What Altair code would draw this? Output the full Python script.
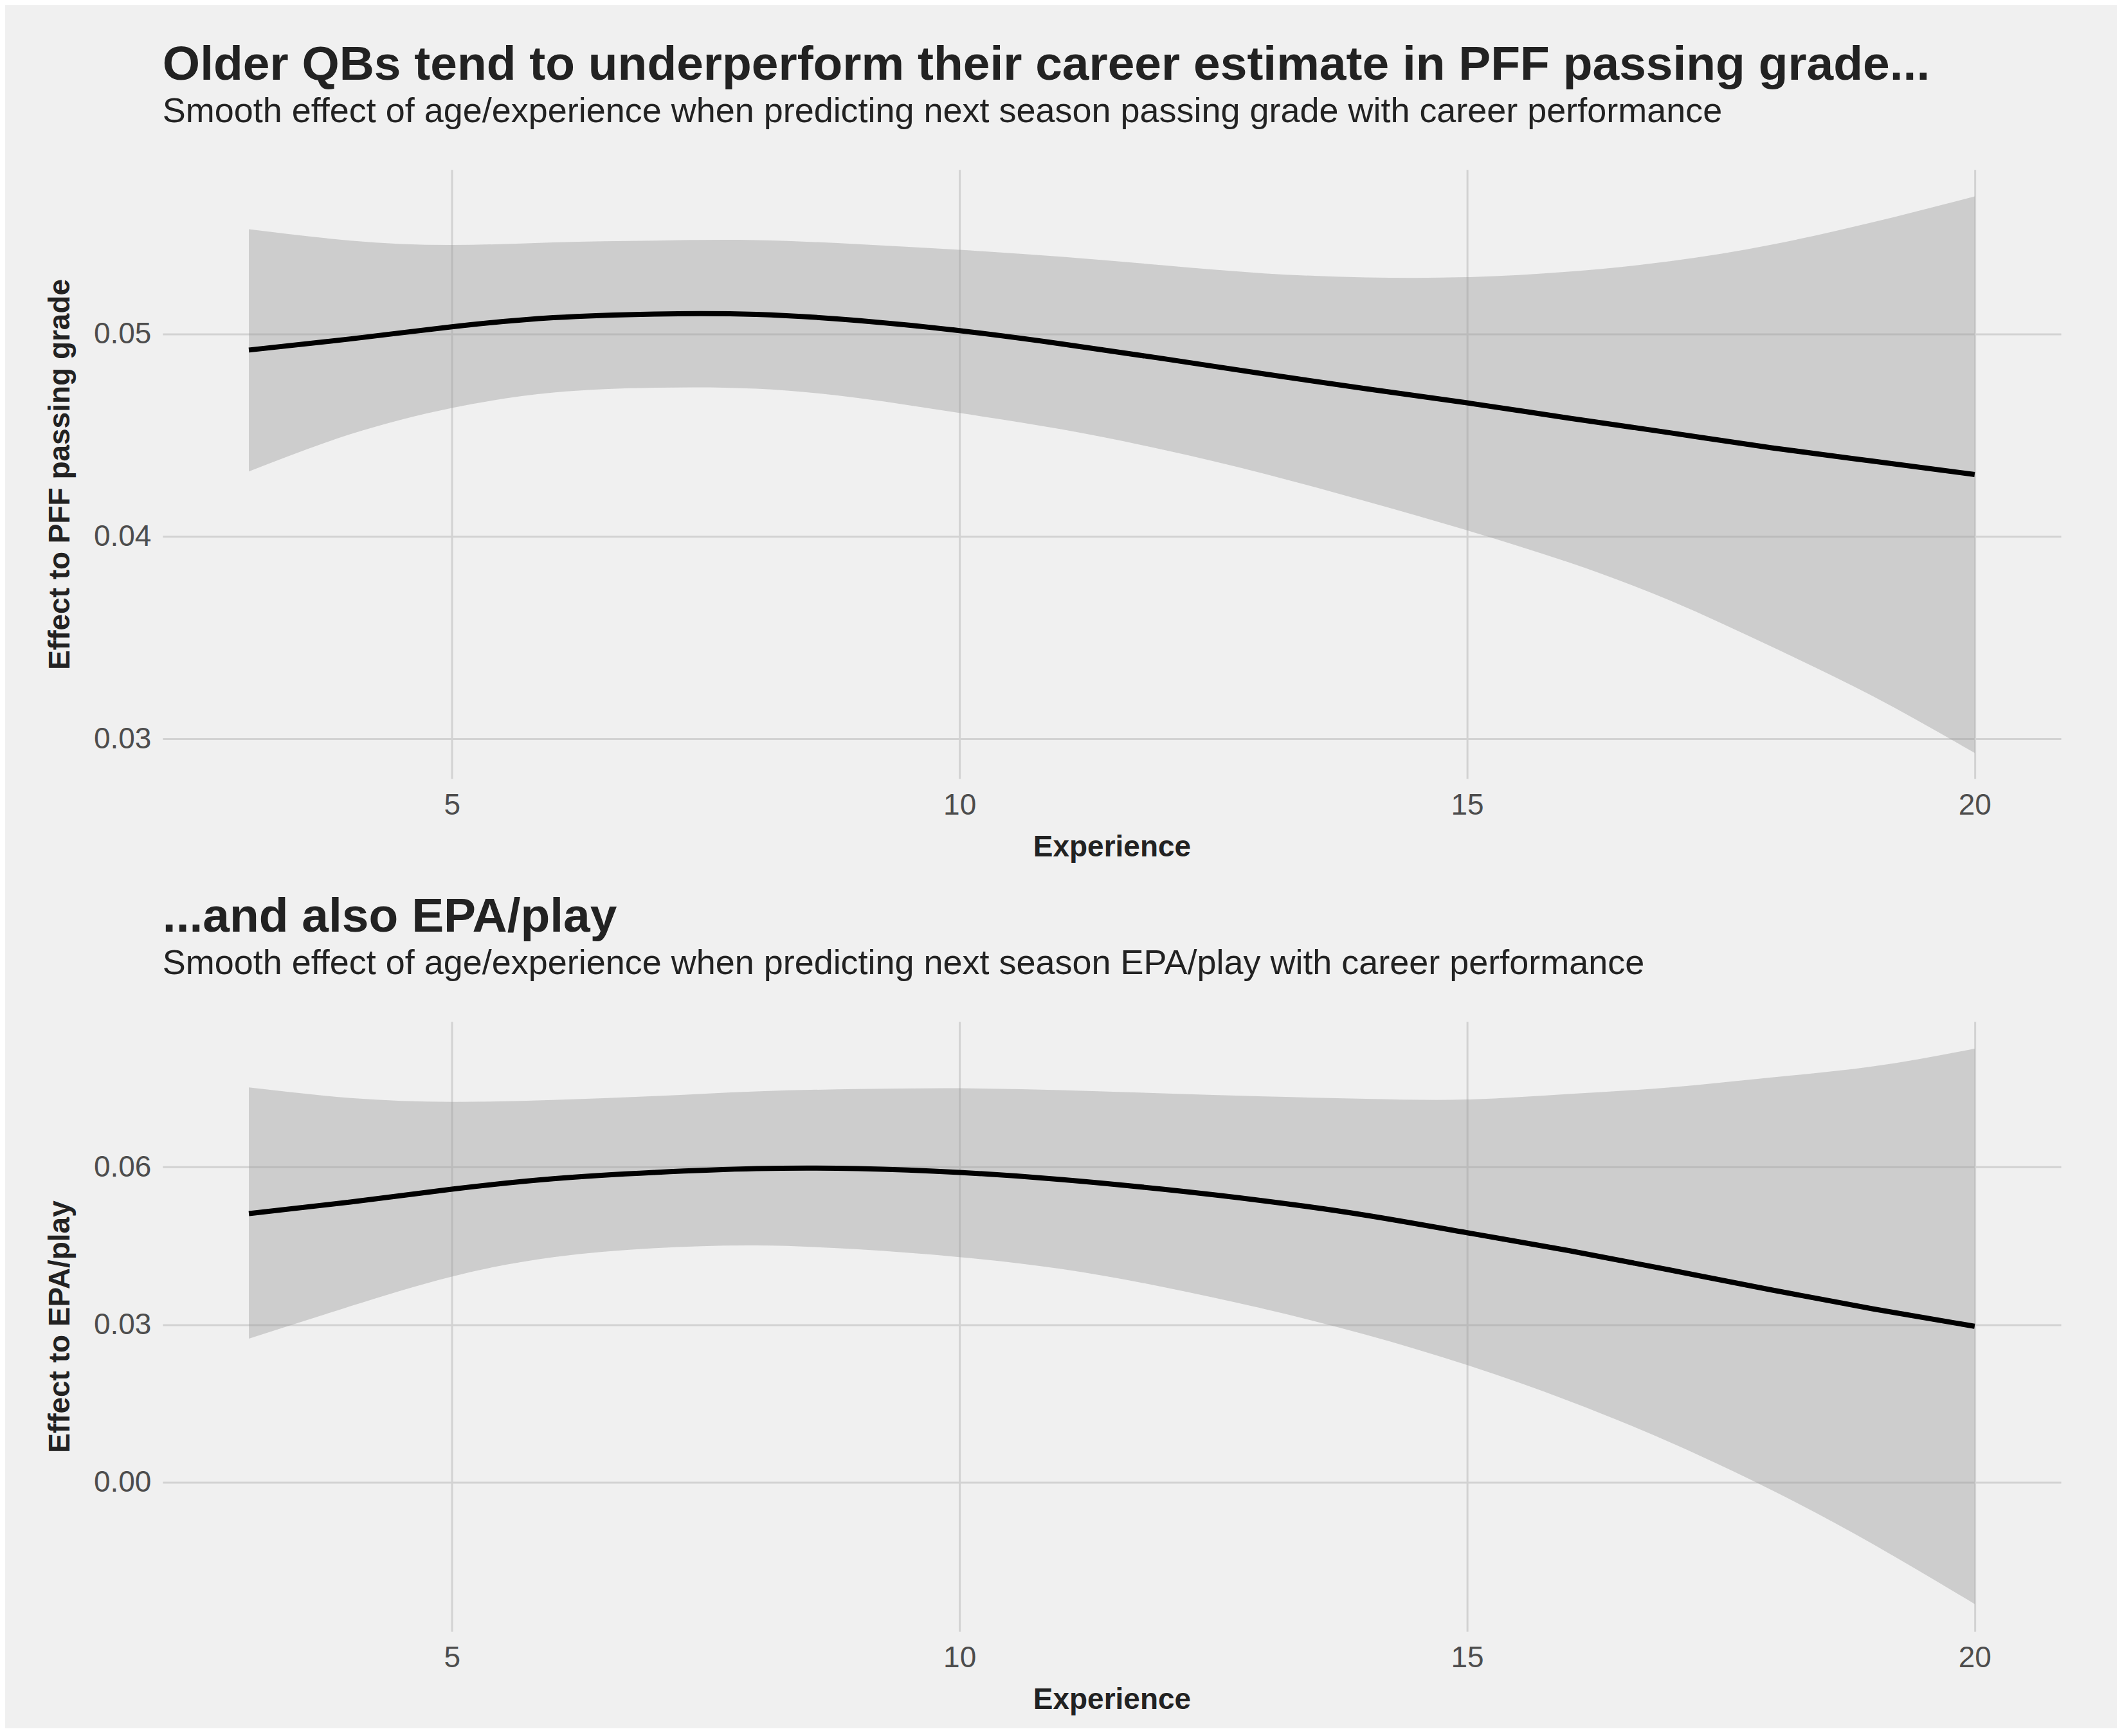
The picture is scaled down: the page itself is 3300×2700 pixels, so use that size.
import altair as alt
import pandas as pd

# Experience (x) values
experience = [3, 4, 5, 6, 7, 8, 9, 10, 11, 12, 13, 14, 15, 16, 17, 18, 19, 20]

# Panel 1: effect to PFF passing grade
pff_fit = [0.04921, 0.04976, 0.05036, 0.05081, 0.05099, 0.05097, 0.05067, 0.05017, 0.04952,
           0.04879, 0.04803, 0.04730, 0.04660, 0.04585, 0.04512, 0.04438, 0.04372, 0.04306]
pff_hi = [0.05518, 0.05462, 0.05440, 0.05453, 0.05462, 0.05464, 0.05444, 0.05416, 0.05382,
          0.05340, 0.05300, 0.05280, 0.05281, 0.05308, 0.05360, 0.05442, 0.05553, 0.05680]
pff_lo = [0.04321, 0.04505, 0.04635, 0.04711, 0.04735, 0.04730, 0.04684, 0.04610, 0.04530,
          0.04429, 0.04310, 0.04174, 0.04030, 0.03872, 0.03683, 0.03455, 0.03210, 0.02930]

# Panel 2: effect to EPA/play
epa_fit = [0.05113, 0.05335, 0.05579, 0.05778, 0.05897, 0.05970, 0.05970, 0.05897, 0.05764,
           0.05579, 0.05357, 0.05084, 0.04750, 0.04410, 0.04040, 0.03660, 0.03300, 0.02968]
epa_hi = [0.07515, 0.07315, 0.07241, 0.07278, 0.07352, 0.07441, 0.07485, 0.07500, 0.07463,
          0.07404, 0.07345, 0.07300, 0.07286, 0.07390, 0.07516, 0.07705, 0.07916, 0.08253]
epa_lo = [0.02734, 0.03350, 0.03916, 0.04286, 0.04456, 0.04507, 0.04434, 0.04286, 0.04060,
          0.03720, 0.03300, 0.02810, 0.02230, 0.01550, 0.00760, -0.00150, -0.01180, -0.02320]

x_ticks = [5, 10, 15, 20]
pff_ticks = [0.03, 0.04, 0.05]
epa_ticks = [0.00, 0.03, 0.06]

titles = ["Older QBs tend to underperform their career estimate in PFF passing grade...",
          "...and also EPA/play"]
subtitles = ["Smooth effect of age/experience when predicting next season passing grade with career performance",
             "Smooth effect of age/experience when predicting next season EPA/play with career performance"]
y_titles = ["Effect to PFF passing grade", "Effect to EPA/play"]
x_title = "Experience"

FONT = "Liberation Sans"
INK = "#222222"

def panel(fit, lo, hi, yticks, ydomain, title, subtitle, ytitle, height):
    df = pd.DataFrame({"exp": experience, "fit": fit, "lo": lo, "hi": hi})
    xenc = alt.X("exp:Q",
                 scale=alt.Scale(domain=[2.15, 20.85], nice=False, zero=False),
                 axis=alt.Axis(values=x_ticks, title=x_title, labelPadding=19,
                               titlePadding=20, format="d"))
    yscale = alt.Scale(domain=ydomain, nice=False, zero=False)
    band = alt.Chart(df).mark_area(color="#999999", opacity=0.4, interpolate="natural").encode(
        x=xenc,
        y=alt.Y("lo:Q", scale=yscale,
                axis=alt.Axis(values=yticks, format=".2f", title=ytitle,
                              labelPadding=18, titlePadding=28)),
        y2="hi:Q",
    )
    line = alt.Chart(df).mark_line(color="#000000", strokeWidth=8, interpolate="natural").encode(
        x=alt.X("exp:Q"),
        y=alt.Y("fit:Q"),
    )
    return alt.layer(band, line).properties(
        width=2954, height=height,
        title=alt.TitleParams(text=title, subtitle=subtitle, anchor="start", frame="group",
                              font=FONT, fontSize=75, fontWeight="bold", color=INK,
                              subtitleFont=FONT, subtitleFontSize=54, subtitleColor=INK,
                              subtitlePadding=7, offset=62),
    )

top = panel(pff_fit, pff_lo, pff_hi, pff_ticks, [0.02803, 0.05813],
            titles[0], subtitles[0], y_titles[0], 948)
bottom = panel(epa_fit, epa_lo, epa_hi, epa_ticks, [-0.0284, 0.0877],
               titles[1], subtitles[1], y_titles[1], 949)

chart = alt.vconcat(top, bottom, spacing=49).properties(
    background="#F0F0F0",
    padding={"left": 62, "top": 55, "right": 87, "bottom": 21},
).configure_view(strokeWidth=0).configure_axis(
    domain=False, ticks=False, tickSize=0,
    grid=True, gridColor="#D2D2D2", gridWidth=3,
    labelFont=FONT, labelFontSize=46, labelColor="#4D4D4D",
    titleFont=FONT, titleFontSize=46, titleFontWeight="bold", titleColor=INK,
)

chart.save("out.html", embed_options={"renderer": "svg", "actions": False})
